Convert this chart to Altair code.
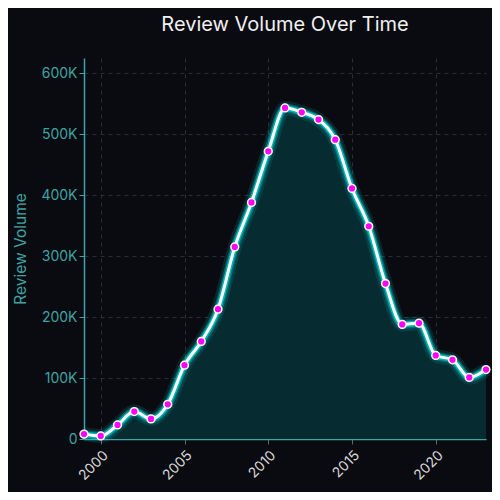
import altair as alt
import pandas as pd

years = list(range(1999, 2024))
volumes = [8000, 5000, 23000, 45000, 33000, 57000, 121000, 160000, 213000, 315000,
           388000, 472000, 543000, 536000, 524000, 491000, 411000, 349000, 255000,
           188000, 190000, 137000, 130000, 101000, 114000]

df = pd.DataFrame({"year": years, "volume": volumes})

BG = "#0a0b10"
TEAL = "#3fa3a3"
FONT = "Inter"

x = alt.X("year:Q", scale=alt.Scale(domain=[1999, 2023], nice=False, zero=False),
          axis=alt.Axis(title=None, format="d", values=[2000, 2005, 2010, 2015, 2020],
                        labelAngle=-45, labelColor="#d8d8d8", labelFontSize=14,
                        labelFont=FONT, tickColor="#666", domainColor=TEAL,
                        gridColor="#2a2e35", gridDash=[4, 4], labelPadding=4))
y = alt.Y("volume:Q", scale=alt.Scale(domain=[0, 625000], nice=False),
          axis=alt.Axis(title="Review Volume", values=[0, 100000, 200000, 300000, 400000, 500000, 600000],
                        labelExpr="datum.value == 0 ? '0' : format(datum.value/1000, 'd') + 'K'",
                        labelColor=TEAL, labelFontSize=14, labelFont=FONT,
                        titleColor=TEAL, titleFontSize=15.5, titleFont=FONT, titleFontWeight="normal",
                        titlePadding=12, tickColor=TEAL, domainColor=TEAL,
                        gridColor="#2a2e35", gridDash=[4, 4]))

base = alt.Chart(df)

area = base.mark_area(color="#062b30", opacity=1, interpolate="monotone").encode(x=x, y=y)
glow1 = base.mark_line(color="#00e5e5", strokeWidth=14, opacity=0.12, interpolate="monotone").encode(x=x, y=y)
glow2 = base.mark_line(color="#00e5e5", strokeWidth=9, opacity=0.28, interpolate="monotone").encode(x=x, y=y)
glow3 = base.mark_line(color="#00e5e5", strokeWidth=6, opacity=0.6, interpolate="monotone").encode(x=x, y=y)
line = base.mark_line(color="#ffffff", strokeWidth=3, interpolate="monotone").encode(x=x, y=y)
pts = base.mark_point(filled=True, fill="#ff00ff", stroke="#ffffff", strokeWidth=1.5,
                      size=60, opacity=1).encode(x=x, y=y)

chart = alt.layer(area, glow1, glow2, glow3, line, pts).properties(
    width=402, height=381,
    title=alt.TitleParams("Review Volume Over Time", color="#f0f0f0", fontSize=20,
                          font=FONT, fontWeight="normal", anchor="middle", offset=23),
    autosize=alt.AutoSizeParams(type="none"),
    padding={"left": 76, "top": 50, "right": 6, "bottom": 53},
    background=BG,
).configure_view(stroke=None).configure_axis(domainWidth=1.5)

chart.save("out.html", embed_options={"renderer": "svg", "actions": False})
